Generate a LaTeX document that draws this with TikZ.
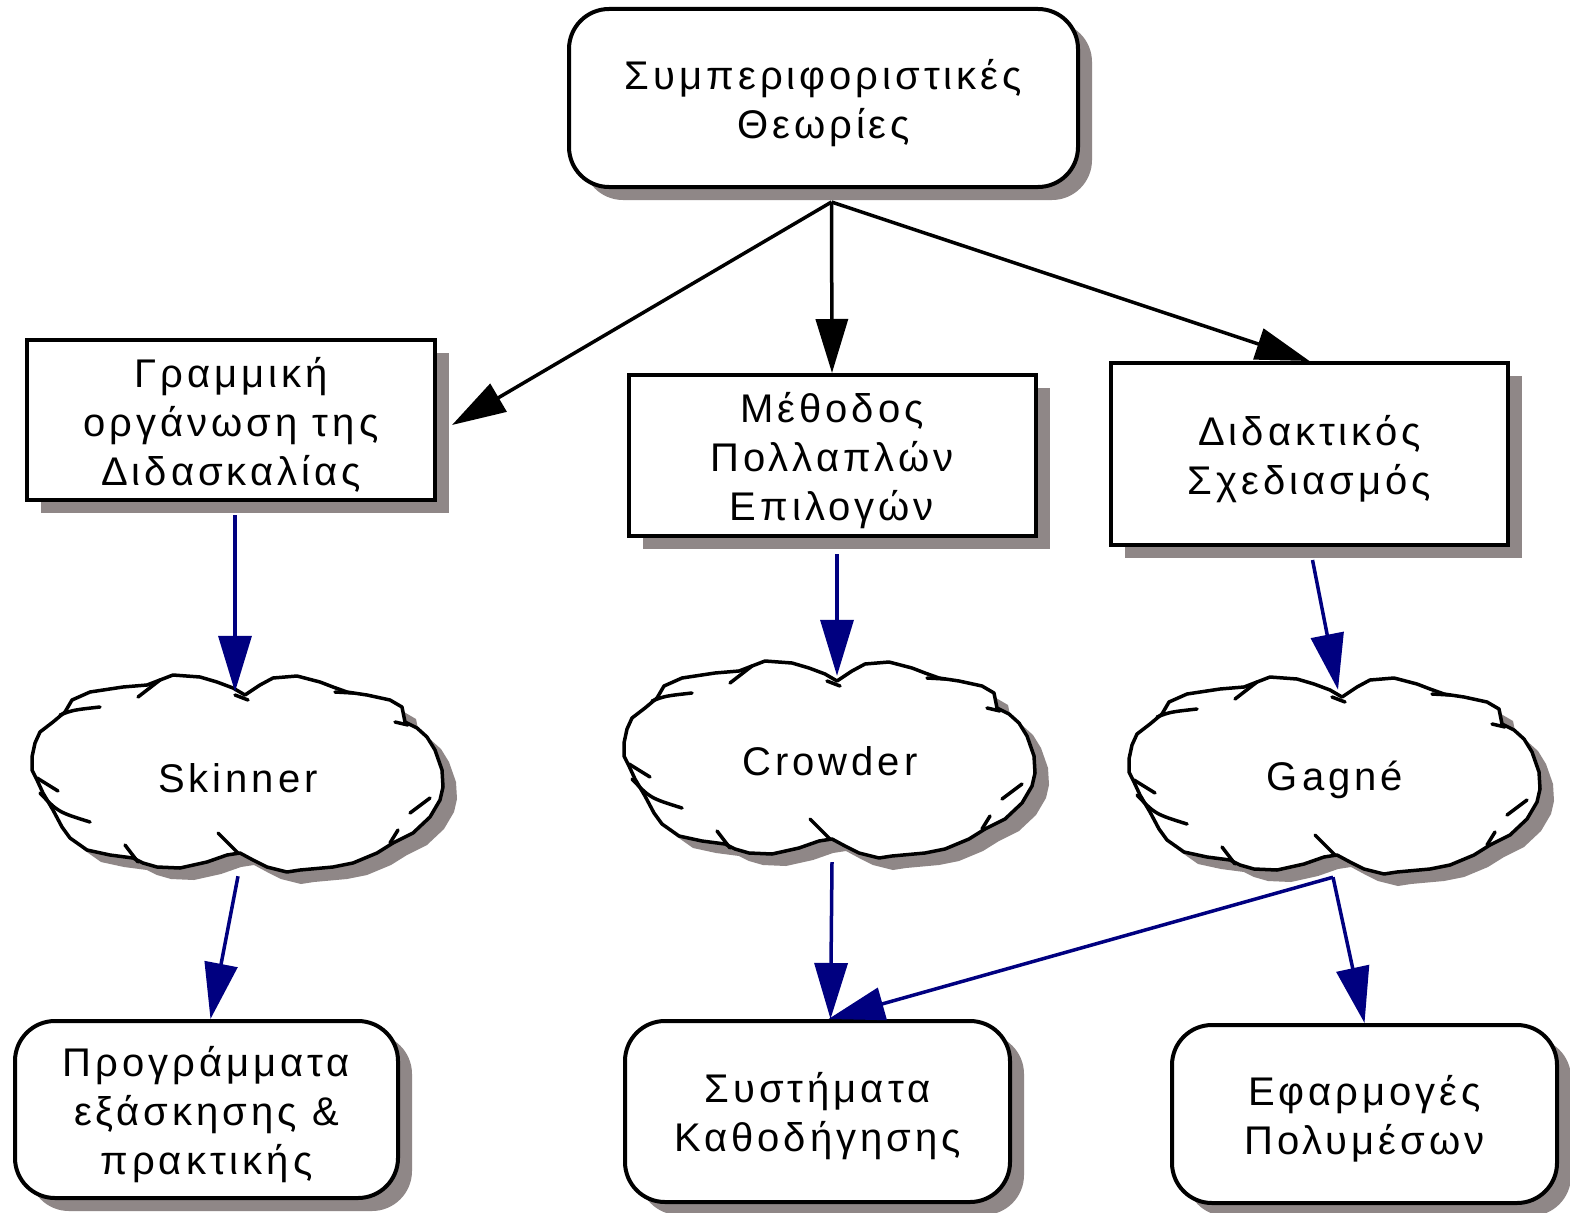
\documentclass[tikz,border=0pt]{standalone}
\usepackage{fontspec}
\setmainfont{Liberation Sans}[LetterSpace=10]
\usetikzlibrary{arrows.meta,shadows}
\definecolor{shadowgray}{RGB}{143,135,135}
\definecolor{linkblue}{RGB}{0,0,128}

% invisible strut that gives the first text line a little more room on top
\newcommand\headroom[1]{\rule{0pt}{#1}}

% outline of a two-lobed cloud, centred on the origin (y grows downwards)
\newcommand\cloudoutline{(7,-79) -- (-5,-86) -- (-21,-92) -- (-38,-97) -- (-65,-99)
  -- (-78,-94) -- (-91,-89) -- (-115,-87) -- (-148,-82) -- (-166,-74) -- (-173,-62)
  -- (-185,-52) -- (-198,-42) -- (-203,-31) -- (-206,-17) -- (-206,-4) -- (-201,6)
  -- (-195,19) -- (-185,36) -- (-176,53) -- (-168,64) -- (-151,76) -- (-128,81)
  -- (-105,84) -- (-95,89) -- (-81,93) -- (-58,94) -- (-31,88) -- (-11,81) -- (2,79)
  -- (15,86) -- (29,93) -- (49,98) -- (62,96) -- (95,93) -- (115,89) -- (139,79)
  -- (155,69) -- (175,59) -- (192,43) -- (202,26) -- (205,13) -- (204,-4) -- (197,-24)
  -- (189,-37) -- (179,-46) -- (167,-52) -- (164,-67) -- (152,-74) -- (129,-79)
  -- (109,-82) -- (95,-87) -- (82,-92) -- (59,-98) -- (35,-96) -- (22,-89) -- cycle}

\tikzset{
  boxbase/.style={draw=black, line width=4pt, fill=white, align=center,
    inner sep=0pt, font=\fontsize{40}{49}\selectfont,
    drop shadow={shadow xshift=14pt, shadow yshift=-13pt, fill=shadowgray, opacity=1}},
  sqbox/.style={boxbase, rectangle},
  rbox/.style={boxbase, rounded corners=40pt},
  cloudnode/.style={minimum width=410pt, minimum height=196pt, inner sep=0pt,
    font=\fontsize{40}{49}\selectfont},
  cloudline/.style={draw=black, line width=3.5pt, line join=round, line cap=round},
  blackarrow/.style={draw=black, line width=3.5pt, -{Triangle[length=54pt,width=32pt]}},
  bluearrow/.style={draw=linkblue, line width=3.5pt, -{Triangle[length=56pt,width=33pt]}},
  pics/cloud/.style={code={
    \fill[shadowgray, shift={(14,12)}] \cloudoutline;
    \draw[cloudline, fill=white] \cloudoutline;
    \draw[cloudline] (-100,-77) -- (-78,-94)
      (-178,-59) .. controls (-165,-64) .. (-138,-67)
      (-201,4) -- (-180,17)
      (-198,19) .. controls (-180,38) .. (-148,48)
      (-113,71) -- (-100,88)
      (-20,59) -- (0,79)
      (-3,-79) -- (10,-74)
      (97,-82) -- (115,-81)
      (157,-52) -- (170,-49)
      (172,39) -- (192,24)
      (152,69) -- (160,56);
  }}
}

\begin{document}
\begin{tikzpicture}[x=1pt,y=-1pt]
\useasboundingbox[fill=white] (0,0) rectangle (1570,1212);

% upper level
\node[rbox, minimum width=509pt, minimum height=178pt] (theory) at (823.5,98)
  {\headroom{40pt}Συμπεριφοριστικές\\Θεωρίες};
\node[sqbox, minimum width=408pt, minimum height=160pt] (linear) at (231,420)
  {\headroom{40pt}Γραμμική\\οργάνωση της\\Διδασκαλίας};
\node[sqbox, minimum width=407pt, minimum height=161pt] (method) at (832,455.5)
  {\headroom{40pt}Μέθοδος\\Πολλαπλών\\Επιλογών};
\node[sqbox, minimum width=397pt, minimum height=182pt] (design) at (1309.5,454)
  {\headroom{40pt}Διδακτικός\\Σχεδιασμός};

% clouds
\pic at (238,774) {cloud};
\node[cloudnode] (skinner) at (238,774) {\headroom{38pt}Skinner};
\pic at (830,760) {cloud};
\node[cloudnode] (crowder) at (830,760) {\headroom{32pt}Crowder};
\pic at (1335,776) {cloud};
\node[cloudnode] (gagne) at (1335,776) {\headroom{38pt}Gagné};

% lower level
\node[rbox, minimum width=383pt, minimum height=177pt] (drill) at (206.5,1109.5)
  {\headroom{40pt}Προγράμματα\\εξάσκησης \&\\πρακτικής};
\node[rbox, minimum width=385pt, minimum height=181pt] (tutor) at (817.5,1111.5)
  {\headroom{40pt}Συστήματα\\Καθοδήγησης};
\node[rbox, minimum width=385pt, minimum height=178pt] (media) at (1364.5,1114)
  {\headroom{40pt}Εφαρμογές\\Πολυμέσων};

% connectors
\coordinate (fork) at ([xshift=8pt,yshift=-13pt]theory.south);
\draw[blackarrow] (fork) -- ([xshift=15pt,yshift=-5pt]linear.east);
\draw[blackarrow] (fork) -- (method.north);
\draw[blackarrow] (fork) -- (design.north);

\draw[bluearrow] ([xshift=4pt,yshift=-13pt]linear.south) -- ([xshift=-3pt,yshift=-16pt]skinner.north);
\draw[bluearrow] ([xshift=5pt,yshift=-16pt]method.south) -- ([xshift=7pt,yshift=-14pt]crowder.north);
\draw[bluearrow] ([xshift=3pt,yshift=-13pt]design.south) -- ([xshift=3pt,yshift=-12pt]gagne.north);
\draw[bluearrow] ([yshift=-4pt]skinner.south) -- ([xshift=4pt]drill.north);
\draw[bluearrow] ([xshift=2pt,yshift=-4pt]crowder.south) -- ([xshift=13pt]tutor.north);
\coordinate (gfork) at ([xshift=-2pt,yshift=-3pt]gagne.south);
\draw[bluearrow] (gfork) -- ([xshift=11pt]tutor.north);
\draw[bluearrow] (gfork) -- (media.north);
\end{tikzpicture}
\end{document}
